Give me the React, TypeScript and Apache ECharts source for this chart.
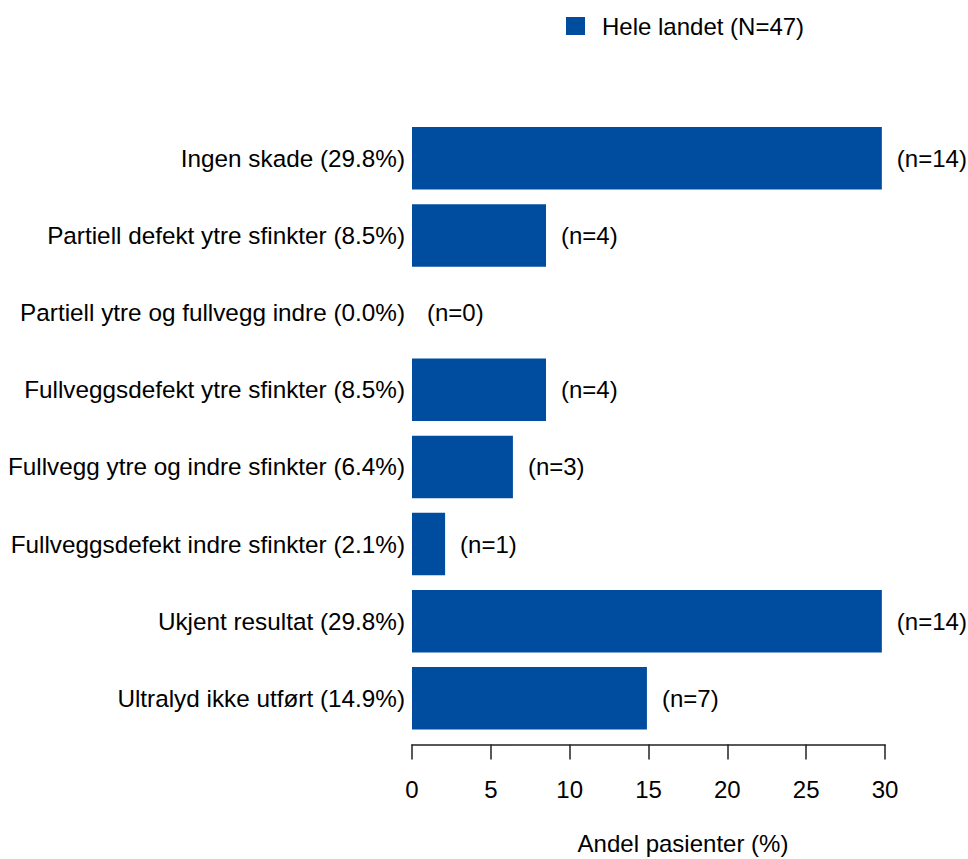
import React, { useEffect, useRef } from "react";
import * as echarts from "echarts";

const categories = [
  "Ingen skade",
  "Partiell defekt ytre sfinkter",
  "Partiell ytre og fullvegg indre",
  "Fullveggsdefekt ytre sfinkter",
  "Fullvegg ytre og indre sfinkter",
  "Fullveggsdefekt indre sfinkter",
  "Ukjent resultat",
  "Ultralyd ikke utført",
];
const percents = [29.8, 8.5, 0.0, 8.5, 6.4, 2.1, 29.8, 14.9];
const counts = [14, 4, 0, 4, 3, 1, 14, 7];
const seriesName = "Hele landet (N=47)";
const xTicks = [0, 5, 10, 15, 20, 25, 30];
const xAxisName = "Andel pasienter (%)";

const FONT = "'Liberation Sans', Arial, Helvetica, sans-serif";
const BAR_COLOR = "#004C9E";

export default function App() {
  const ref = useRef<HTMLDivElement>(null);
  useEffect(() => {
    if (!ref.current) return;
    const chart = echarts.init(ref.current, undefined, { renderer: "svg" });
    const labels = categories.map((c, i) => `${c} (${percents[i].toFixed(1)}%)`);
    chart.setOption({
      animation: false,
      textStyle: { fontFamily: FONT },
      legend: {
        data: [seriesName],
        left: 561,
        top: 9,
        icon: "rect",
        itemWidth: 19,
        itemHeight: 18,
        textStyle: { fontSize: 24, color: "#000", fontFamily: FONT, padding: [0, 0, 0, 12] },
      },
      grid: {
        left: 412,
        right: 83,
        top: 119.7,
        bottom: 859 - 736.9,
        containLabel: false,
        outerBoundsMode: "none",
      },
      xAxis: {
        type: "value",
        min: xTicks[0],
        max: xTicks[xTicks.length - 1],
        interval: 5,
        offset: 7.5,
        splitLine: { show: false },
        axisLine: { show: true, lineStyle: { color: "#222", width: 1.5 } },
        axisTick: { show: true, length: 15, lineStyle: { color: "#222", width: 1.5 } },
        axisLabel: { fontSize: 24, color: "#000", margin: 33, fontFamily: FONT },
        name: xAxisName,
        nameLocation: "middle",
        nameGap: 87,
        nameTextStyle: { fontSize: 24, color: "#000", fontFamily: FONT, padding: [0, 0, 0, 69] },
      },
      yAxis: {
        type: "category",
        data: labels,
        inverse: true,
        axisLine: { show: false },
        axisTick: { show: false },
        axisLabel: { fontSize: 24.3, color: "#000", margin: 7, fontFamily: FONT },
      },
      series: [
        {
          name: seriesName,
          type: "bar",
          data: percents,
          barWidth: 62.5,
          itemStyle: { color: BAR_COLOR },
          label: {
            show: true,
            position: "right",
            distance: 15,
            fontSize: 24,
            color: "#000",
            fontFamily: FONT,
            formatter: (p: any) => `(n=${counts[p.dataIndex]})`,
          },
        },
      ],
    });
    return () => chart.dispose();
  }, []);
  return (
    <div
      ref={ref}
      style={{ position: "fixed", left: 0, top: 0, width: 968, height: 859, background: "#fff" }}
    />
  );
}
